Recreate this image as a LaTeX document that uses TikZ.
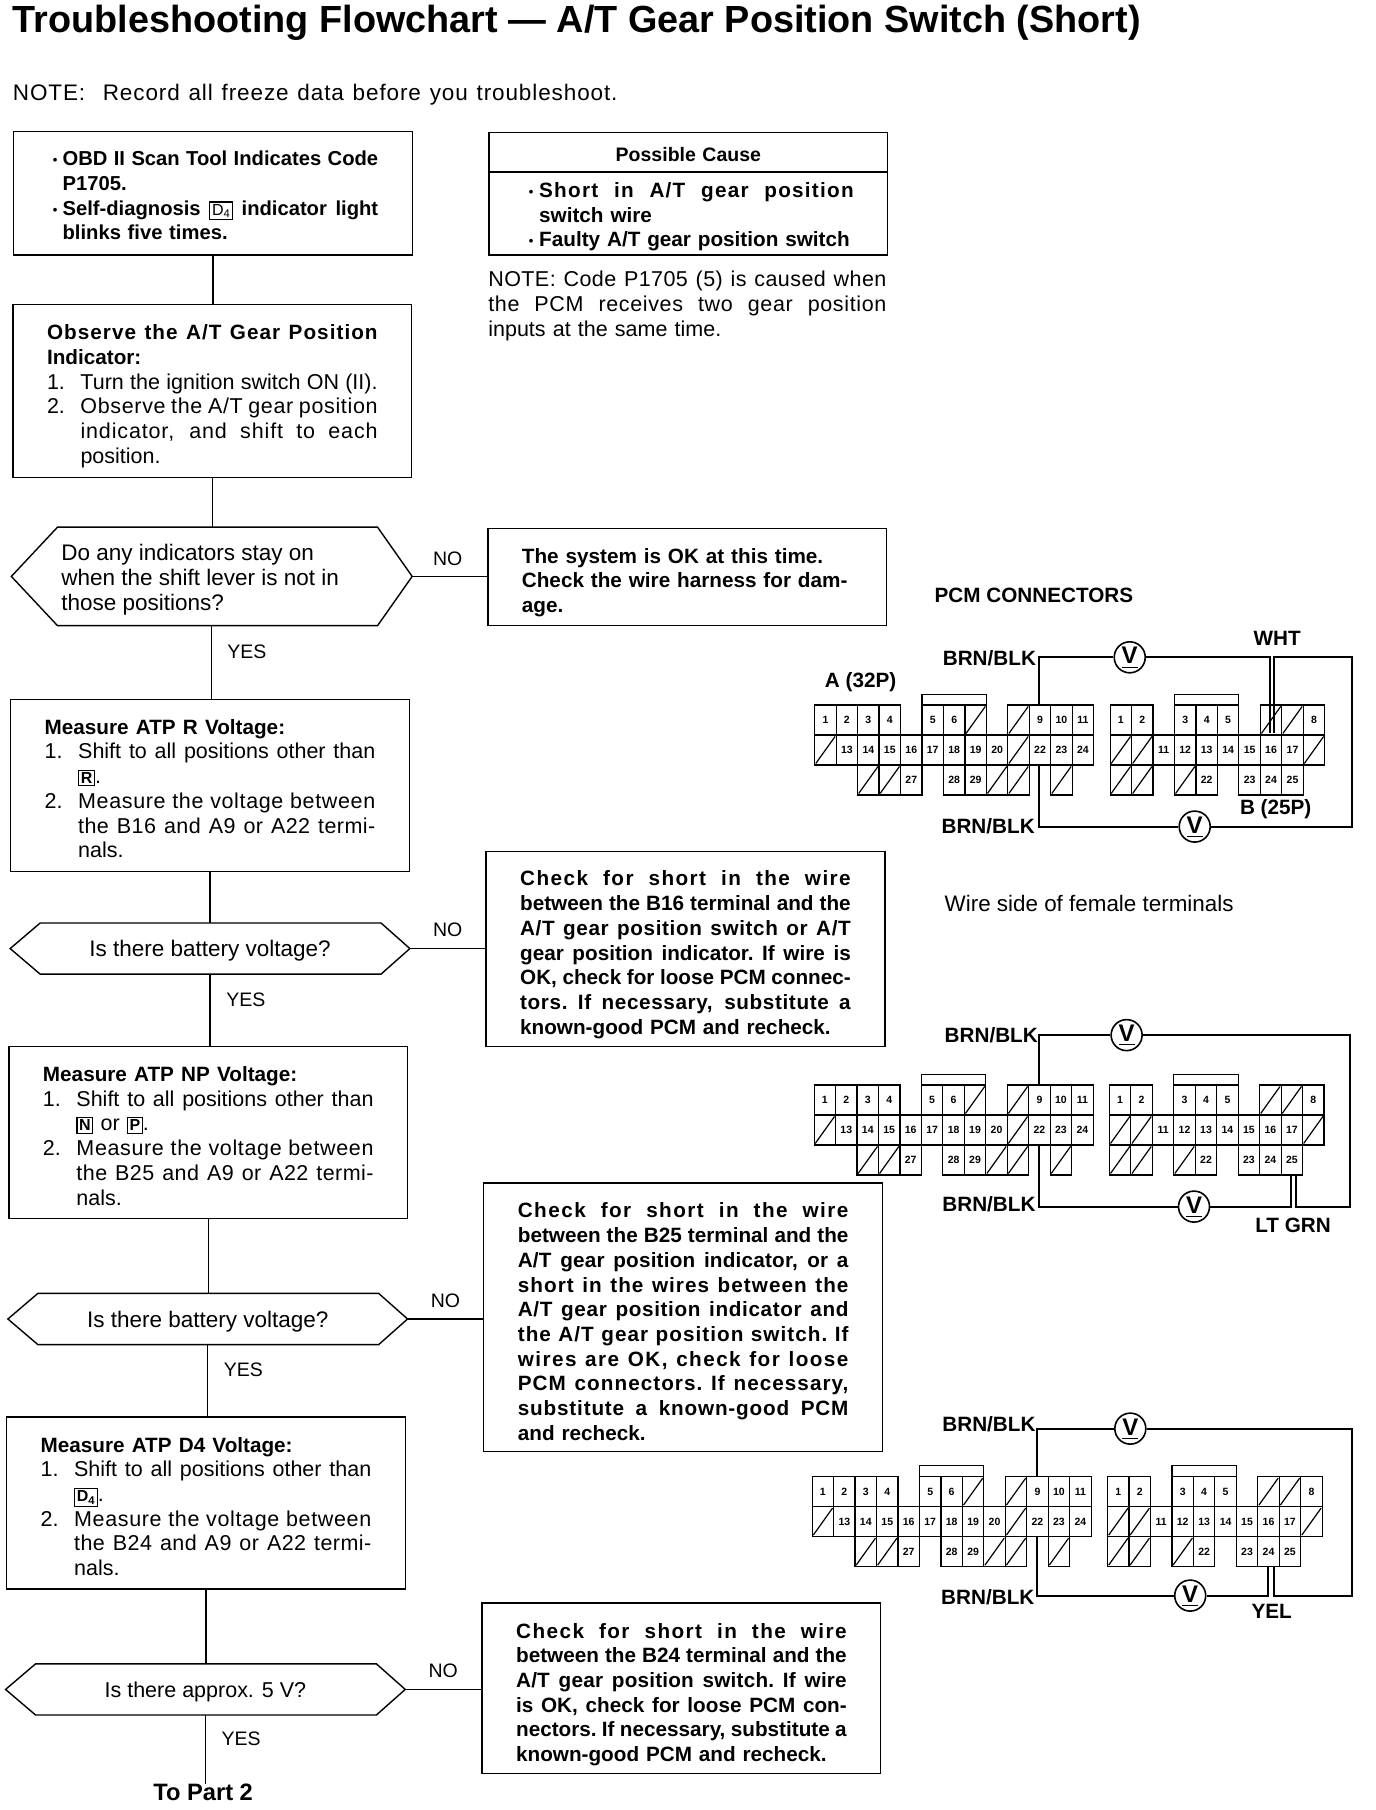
\documentclass[tikz,border=0pt]{standalone}
\usepackage{fontspec}
\setmainfont{Liberation Sans}
\newlength\upx \setlength\upx{1.154pt}
\newlength\tw \setlength\tw{330.6pt}
\newlength\itw \setlength\itw{29\upx}
\newcommand\sx[2]{\makebox[#1][s]{\spaceskip=.278em plus 3em minus .08em\xspaceskip=\spaceskip #2}}
\newcommand\ls[2]{{\addfontfeature{LetterSpace=#1}#2}}
\newcommand\jl[1]{\sx{\tw}{#1}\\}
\newcommand\hb[1]{{\fontsize{20.7}{24.7}\selectfont\bfseries #1}}
\newcommand\itm[2]{\makebox[\itw][l]{#1}\sx{\dimexpr\tw-\itw\relax}{#2}\\}
\newcommand\ind[1]{\hspace*{\itw}#1\\}
\newcommand\inj[1]{\hspace*{\itw}\sx{\dimexpr\tw-\itw\relax}{#1}\\}
\newcommand\keyc[1]{{\setlength\fboxsep{1.6pt}\setlength\fboxrule{1.1pt}\fbox{\fontsize{16}{16}\selectfont #1}}}
\newcommand\sh[1]{\rule{0pt}{\dimexpr 17pt+#1\upx+#1\upx\relax}}
\newcommand\bul{\makebox[13\upx][c]{\fontsize{13}{13}\selectfont\raisebox{1pt}{•}}}
\newcommand\vsym{\raisebox{1pt}{\underline{\raisebox{1.5pt}{V}}}}
\tikzset{
  base/.style={line width=1.4pt,line join=miter},
  bx/.style={base,draw,rectangle,text width=\tw,inner xsep=29.5\upx,inner ysep=0pt,align=left,
    font=\fontsize{21.5}{24.7}\selectfont},
  bxb/.style={bx,font=\fontsize{20.7}{24.7}\selectfont\bfseries},
  hx/.style={rectangle,inner sep=0pt,minimum width=346\upx,minimum height=44\upx,font=\fontsize{22.5}{24.7}\selectfont},
  lab/.style={inner sep=0pt,font=\fontsize{19.5}{24.7}\selectfont},
  txt/.style={inner sep=0pt,font=\fontsize{21.5}{24.7}\selectfont},
  labb/.style={lab,font=\fontsize{20.7}{24.7}\selectfont\bfseries},
  link/.style={base},
  wire/.style={line width=2pt},
  vm/.style={circle,draw,line width=1.6pt,inner sep=0pt,minimum size=31pt,font=\fontsize{24}{24}\selectfont\bfseries},
  cell/.style={line width=1.2pt},
  celltxt/.style={inner sep=0pt,font=\fontsize{10.5}{10.5}\selectfont\bfseries},
}
\newcommand\hexa[3]{\draw[base] (#1.west) -- ([xshift=#2\upx]#1.north west) -- ([xshift=-#3\upx]#1.north east) -- (#1.east) -- ([xshift=-#3\upx]#1.south east) -- ([xshift=#2\upx]#1.south west) -- cycle;}
\newcommand\pcmconn[4]{%
 \begin{scope}[shift={(#2,#4)},x=21.46pt,y=-30pt]
  \foreach \c/\r/\t in {0/0/1,1/0/2,2/0/3,3/0/4,5/0/5,6/0/6,10/0/9,11/0/10,12/0/11,
     1/1/13,2/1/14,3/1/15,4/1/16,5/1/17,6/1/18,7/1/19,8/1/20,10/1/22,11/1/23,12/1/24,
     4/2/27,6/2/28,7/2/29}{
    \draw[cell] (\c,\r) rectangle ++(1,1);
    \node[celltxt] (#1a\t) at (\c+.5,\r+.5) {\t};}
  \foreach \c/\r in {7/0,9/0,0/1,9/1,2/2,3/2,8/2,9/2,11/2}{
    \draw[cell] (\c,\r) rectangle ++(1,1);
    \draw[cell] (\c+.05,\r+.95) -- (\c+.95,\r+.05);}
  \draw[cell] (5,0) -- (5,-.36) -- (8,-.36) -- (8,0);
 \end{scope}
 \begin{scope}[shift={(#3,#4)},x=21.46pt,y=-30pt]
  \foreach \c/\r/\t in {0/0/1,1/0/2,3/0/3,4/0/4,5/0/5,9/0/8,
     2/1/11,3/1/12,4/1/13,5/1/14,6/1/15,7/1/16,8/1/17,
     4/2/22,6/2/23,7/2/24,8/2/25}{
    \draw[cell] (\c,\r) rectangle ++(1,1);
    \node[celltxt] (#1b\t) at (\c+.5,\r+.5) {\t};}
  \foreach \c/\r in {7/0,8/0,0/1,1/1,9/1,0/2,1/2,3/2}{
    \draw[cell] (\c,\r) rectangle ++(1,1);
    \draw[cell] (\c+.05,\r+.95) -- (\c+.95,\r+.05);}
  \draw[cell] (3,0) -- (3,-.36) -- (6,-.36) -- (6,0);
 \end{scope}}
\begin{document}
\begin{tikzpicture}[x=1.154pt,y=-1.154pt]
\useasboundingbox[fill=white] (0,0) rectangle (1192.4,1568.5);
% heading
\node[inner sep=0pt,anchor=west,font=\fontsize{37.8}{40}\selectfont\bfseries] (title) at (11,20) {Troubleshooting Flowchart — A/T Gear Position Switch (Short)};
\node[inner sep=0pt,anchor=west,font=\fontsize{22.5}{24.7}\selectfont] (note1) at (11,82) {\sx{524\upx}{\ls{4}{NOTE:\ \ Record all freeze data before you troubleshoot.}}};
% left column
\node[bxb,minimum width=345\upx,minimum height=107\upx,font=\fontsize{20.2}{24.7}\selectfont\bfseries] (b1) at (184.5,167.5) {\sh{1}%
 \bul\sx{\dimexpr\tw-13\upx\relax}{OBD II Scan Tool Indicates Code}\\\hspace*{13\upx}P1705.\\
 \bul\sx{\dimexpr\tw-13\upx\relax}{Self-diagnosis {\mdseries\keyc{D\textsubscript{4}}} indicator light}\\\hspace*{13\upx}blinks five times.};
\node[bx,minimum width=344\upx,minimum height=150\upx] (b2) at (184,339) {\sh{3.5}%
 \jl{\hb{\ls{5}{Observe the A/T Gear Position}}}
 \hb{Indicator:}\\
 \itm{1.}{Turn the ignition switch ON (II).}
 \itm{2.}{\ls{3}{Observe the A/T gear position}}
 \inj{\ls{4}{indicator, and shift to each}}
 \ind{position.}};
\node[hx,minimum width=347\upx,minimum height=85\upx] (d1) at (183.5,499.5) {};
\hexa{d1}{40}{30}
\node[txt,anchor=west,align=left,font=\fontsize{22.5}{24.7}\selectfont] (d1t) at (53,502.5) {Do any indicators stay on\\when the shift lever is not in\\those positions?};
\node[bx,minimum width=346\upx,minimum height=149\upx] (b5) at (182,680.5) {\sh{2}%
 \hb{Measure ATP R Voltage:}\\
 \itm{1.}{Shift to all positions other than}
 \ind{\keyc{\bfseries R}.}
 \itm{2.}{\ls{3}{Measure the voltage between}}
 \inj{\ls{2}{the B16 and A9 or A22 termi-}}
 \ind{nals.}};
\node[hx] (d2) at (182,822) {\rule{0pt}{21pt}Is there battery voltage?};
\hexa{d2}{26}{25}
\node[bx,minimum width=345\upx,minimum height=149\upx] (b7) at (180.5,981.5) {\sh{2}%
 \hb{Measure ATP NP Voltage:}\\
 \itm{1.}{Shift to all positions other than}
 \ind{\keyc{\bfseries N} or \keyc{\bfseries P}.}
 \itm{2.}{\ls{3}{Measure the voltage between}}
 \inj{\ls{2}{the B25 and A9 or A22 termi-}}
 \ind{nals.}};
\node[hx] (d3) at (180,1143) {\rule{0pt}{21pt}Is there battery voltage?};
\hexa{d3}{26}{25}
\node[bx,minimum width=345\upx,minimum height=149\upx] (b9) at (178.5,1302.5) {\sh{2}%
 \hb{Measure ATP D4 Voltage:}\\
 \itm{1.}{Shift to all positions other than}
 \ind{\keyc{\bfseries D\textsubscript{4}}.}
 \itm{2.}{\ls{3}{Measure the voltage between}}
 \inj{\ls{2}{the B24 and A9 or A22 termi-}}
 \ind{nals.}};
\node[hx,font=\fontsize{21.5}{24.7}\selectfont] (d4) at (178,1464) {\rule{0pt}{21pt}Is there approx. 5 V?};
\hexa{d4}{26}{25}
\node[inner sep=0pt,font=\fontsize{23.7}{26}\selectfont\bfseries] (end) at (176,1553) {To Part 2};
% right column
\node[bxb,minimum width=345\upx,minimum height=34\upx,align=center,font=\fontsize{19.5}{24.7}\selectfont\bfseries] (pc) at (596.5,132) {\sh{1}Possible Cause};
\node[bxb,minimum width=345\upx,minimum height=72\upx] (pcb) at (596.5,185) {\sh{2}%
 \makebox[14\upx][c]{\fontsize{13}{13}\selectfont\raisebox{1pt}{•}}\sx{\dimexpr\tw-14\upx\relax}{\ls{6}{Short in A/T gear position}}\\\hspace*{14\upx}switch wire\\
 \makebox[14\upx][c]{\fontsize{13}{13}\selectfont\raisebox{1pt}{•}}Faulty A/T gear position switch};
\node[txt,anchor=north west,text width=345\upx,align=left] (note2) at (423,235) {%
 \sx{345\upx}{\ls{2}{NOTE: Code P1705 (5) is caused when}}\\
 \sx{345\upx}{\ls{3}{the PCM receives two gear position}}\\
 inputs at the same time.};
\node[bxb,minimum width=345\upx,minimum height=84\upx] (b3) at (595.5,500) {\sh{4}%
 The system is OK at this time.\\Check the wire harness for dam-\\age.};
\node[bxb,minimum width=346\upx,minimum height=169\upx] (b6) at (594,822.5) {\sh{4}%
 \jl{\ls{7}{Check for short in the wire}}
 \jl{between the B16 terminal and the}
 \jl{\ls{3}{A/T gear position switch or A/T}}
 \jl{gear position indicator. If wire is}
 \jl{OK, check for loose PCM connec-}
 \jl{\ls{3}{tors. If necessary, substitute a}}
 known-good PCM and recheck.};
\node[bxb,minimum width=346\upx,minimum height=233\upx] (b8) at (592,1141.5) {\sh{3}%
 \jl{\ls{7}{Check for short in the wire}}
 \jl{between the B25 terminal and the}
 \jl{\ls{1}{A/T gear position indicator, or a}}
 \jl{\ls{5}{short in the wires between the}}
 \jl{\ls{3}{A/T gear position indicator and}}
 \jl{\ls{5}{the A/T gear position switch. If}}
 \jl{\ls{7}{wires are OK, check for loose}}
 \jl{\ls{5}{PCM connectors. If necessary,}}
 \jl{\ls{4}{substitute a known-good PCM}}
 and recheck.};
\node[bxb,minimum width=345\upx,minimum height=148\upx] (b10) at (590.5,1463) {\sh{4.5}%
 \jl{\ls{7}{Check for short in the wire}}
 \jl{between the B24 terminal and the}
 \jl{\ls{1}{A/T gear position switch. If wire}}
 \jl{is OK, check for loose PCM con-}
 \jl{nectors. If necessary, substitute a}
 known-good PCM and recheck.};
% links
\draw[link] (b1.south) -- (b1.south |- b2.north);
\draw[link] (b2.south) -- (b2.south |- d1.north);
\draw[link] (d1.south) -- (d1.south |- b5.north);
\draw[link] (b5.south) -- (b5.south |- d2.north);
\draw[link] (d2.south) -- (d2.south |- b7.north);
\draw[link] (b7.south) -- (b7.south |- d3.north);
\draw[link] (d3.south) -- (d3.south |- b9.north);
\draw[link] (b9.south) -- (b9.south |- d4.north);
\draw[link] (d4.south) -- (d4.south |- end.north);
\draw[link] (d1.east) -- (d1.east -| b3.west);
\draw[link] (d2.east) -- (d2.east -| b6.west);
\draw[link] (d3.east) -- (d3.east -| b8.west);
\draw[link] (d4.east) -- (d4.east -| b10.west);
\node[lab] (no1) at (388,484) {NO};
\node[lab] (no2) at (388,806) {NO};
\node[lab] (no3) at (386,1127) {NO};
\node[lab] (no4) at (384,1448) {NO};
\node[lab] (yes1) at (214,565) {YES};
\node[lab] (yes2) at (213,866) {YES};
\node[lab] (yes3) at (211,1187) {YES};
\node[lab] (yes4) at (209,1507) {YES};
% connector views
\node[labb] (pcm) at (896,516) {PCM CONNECTORS};
\pcmconn{p}{706}{962}{610.9}
\pcmconn{q}{705.5}{961.4}{940.2}
\pcmconn{r}{703.8}{959.8}{1279.6}
\node[labb] (la1) at (857.4,570.5) {BRN/BLK};
\node[labb] (la2) at (856.3,716.3) {BRN/BLK};
\node[labb] (wht) at (1106.7,553.2) {WHT};
\node[labb] (apin) at (745.8,590.7) {A (32P)};
\node[labb] (bpin) at (1105.5,701) {B (25P)};
\node[txt,font=\fontsize{22.4}{24.7}\selectfont] (wside) at (943.8,782.7) {Wire side of female terminals};
\node[labb] (lb1) at (859,896.9) {BRN/BLK};
\node[labb] (lb2) at (857,1043.6) {BRN/BLK};
\node[labb] (ltg) at (1120.5,1061.5) {LT GRN};
\node[labb] (lc1) at (857,1234) {BRN/BLK};
\node[labb] (lc2) at (856,1384) {BRN/BLK};
\node[labb] (yel) at (1102,1396.6) {YEL};
\node[vm] (v1a) at (979,569.6) {\vsym};
\node[vm] (v1b) at (1035.3,716.3) {\vsym};
\node[vm] (v2a) at (976.3,897) {\vsym};
\node[vm] (v2b) at (1034.7,1045.6) {\vsym};
\node[vm] (v3a) at (979.5,1238) {\vsym};
\node[vm] (v3b) at (1031.4,1382.7) {\vsym};
\coordinate (w1a) at (900.1,610.9);
\coordinate (w1b) at (1100.3,635.5);
\coordinate (w1c) at (1104.3,635.5);
\coordinate (w1d) at (1171.7,569.6);
\coordinate (w1e) at (900.1,662.9);
\draw[wire] (w1a) |- (v1a);
\draw[wire] (v1a) -| (w1b);
\draw[wire] (w1c) |- (w1d) |- (v1b);
\draw[wire] (v1b) -| (w1e);
\coordinate (w2a) at (900.1,940.2);
\coordinate (w2b) at (1119,1018.2);
\coordinate (w2c) at (1123,1018.2);
\coordinate (w2d) at (1169.9,1045.6);
\coordinate (w2e) at (900.1,992.2);
\draw[wire] (w2a) |- (v2a);
\draw[wire] (v2a) -| (w2d) -| (w2c);
\draw[wire] (w2b) |- (v2b);
\draw[wire] (v2b) -| (w2e);
\coordinate (w3a) at (898.4,1279.6);
\coordinate (w3b) at (1098.7,1356.7);
\coordinate (w3c) at (1104.2,1356.7);
\coordinate (w3d) at (1171.6,1382.7);
\coordinate (w3e) at (898.4,1331.6);
\draw[wire] (w3a) |- (v3a);
\draw[wire] (v3a) -| (w3d) -| (w3c);
\draw[wire] (w3b) |- (v3b);
\draw[wire] (v3b) -| (w3e);
\end{tikzpicture}
\end{document}
